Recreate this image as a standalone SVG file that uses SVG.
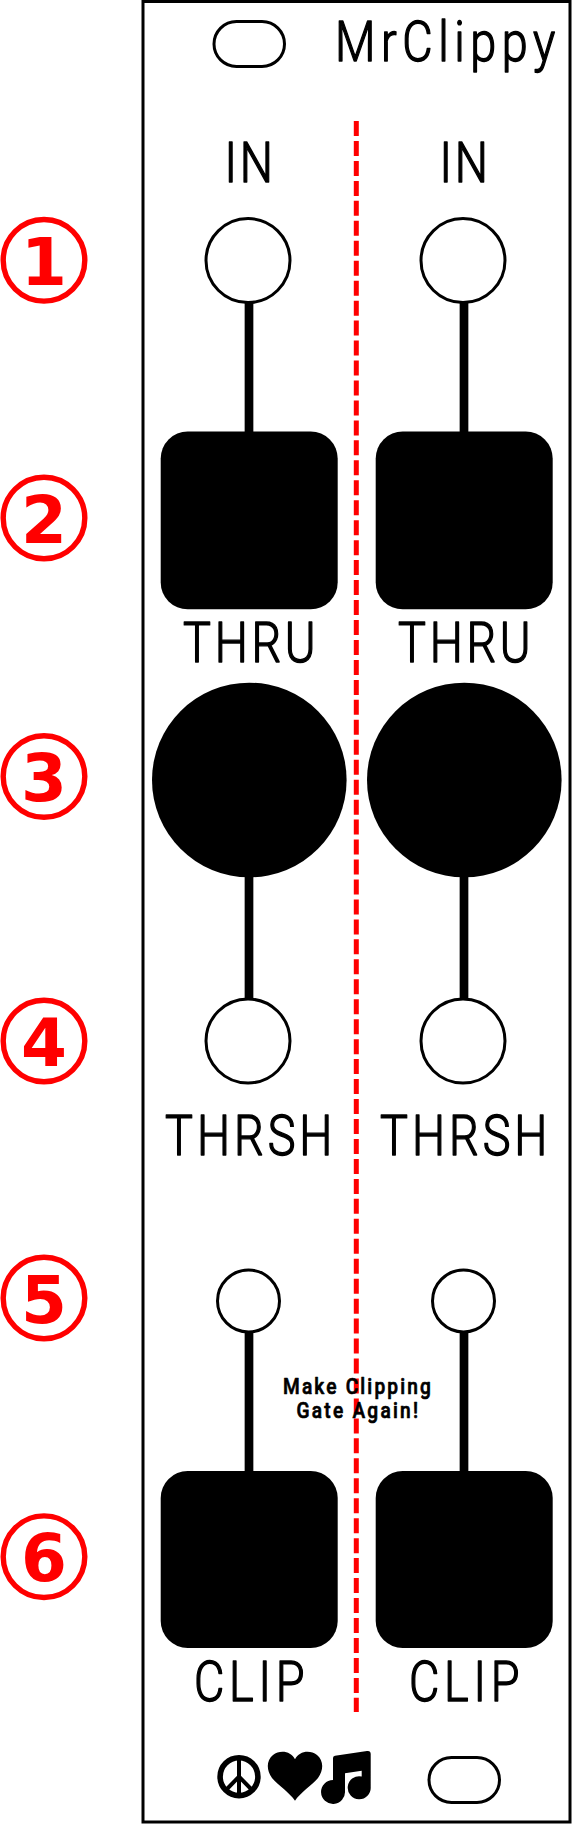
<svg xmlns="http://www.w3.org/2000/svg" width="572" height="1824" viewBox="0 0 572 1824">
<style>
.l{font-family:"Roboto","Liberation Sans",sans-serif;font-weight:300;font-size:55px;fill:#000;stroke:#000;stroke-width:1.4;stroke-linejoin:round}
.m{font-family:"Roboto","Liberation Sans",sans-serif;font-weight:500;font-size:22.5px;fill:#000;stroke:#000;stroke-width:.7;stroke-linejoin:round}
.n{font-family:"DejaVu Sans",sans-serif;font-weight:700;font-size:66px;fill:#f00;text-anchor:middle}
.c{fill:none;stroke:#f00;stroke-width:5.4}
.j{fill:#fff;stroke:#000;stroke-width:3}
.st{stroke:#000;stroke-width:8.7;fill:none}
</style>
<rect width="572" height="1824" fill="#fff"/>
<rect id="panel" x="143" y="1.5" width="427" height="1820.5" fill="#fff" stroke="#000" stroke-width="3"/>
<g id="connectors">
<path class="st" d="M249 300V435M464 300V435M249 870V1000M464 870V1000M249 1330V1475M464 1330V1475"/>
<path d="M356.3 121V1712" fill="none" stroke="#f00" stroke-width="5" stroke-dasharray="15 4.96"/>
</g>
<g id="slot-top"><rect class="j" x="214" y="21.5" width="70.5" height="45" rx="22.5"/></g>
<g id="slot-bottom"><rect class="j" x="429" y="1757.5" width="70.5" height="45" rx="22.5"/></g>
<g id="title"><text class="l" transform="translate(335 60.7) scale(.85 1)" textLength="259" lengthAdjust="spacing">MrClippy</text></g>
<g id="label-in-l"><text class="l" transform="translate(224.5 182) scale(.85 1)" textLength="57" lengthAdjust="spacing">IN</text></g>
<g id="label-in-r"><text class="l" transform="translate(439.5 182) scale(.85 1)" textLength="57" lengthAdjust="spacing">IN</text></g>
<g id="jack-in-l"><circle class="j" cx="248" cy="260.6" r="42"/></g>
<g id="jack-in-r"><circle class="j" cx="463" cy="260.6" r="42"/></g>
<g id="thru-l"><rect x="160.7" y="431.5" width="177" height="177.8" rx="27"/><text class="l" transform="translate(183 661.7) scale(.85 1)" textLength="156" lengthAdjust="spacing">THRU</text></g>
<g id="thru-r"><rect x="375.7" y="431.5" width="177" height="177.8" rx="27"/><text class="l" transform="translate(398 661.7) scale(.85 1)" textLength="156" lengthAdjust="spacing">THRU</text></g>
<g id="knob-l"><circle cx="249.3" cy="780" r="97.3"/></g>
<g id="knob-r"><circle cx="464.3" cy="780" r="97.3"/></g>
<g id="jack-thrsh-l"><circle class="j" cx="248" cy="1041" r="42"/></g>
<g id="jack-thrsh-r"><circle class="j" cx="463" cy="1041" r="42"/></g>
<g id="label-thrsh-l"><text class="l" transform="translate(165 1155) scale(.85 1)" textLength="197" lengthAdjust="spacing">THRSH</text></g>
<g id="label-thrsh-r"><text class="l" transform="translate(380 1155) scale(.85 1)" textLength="197" lengthAdjust="spacing">THRSH</text></g>
<g id="jack-clip-l"><circle class="j" cx="248.5" cy="1301" r="31"/></g>
<g id="jack-clip-r"><circle class="j" cx="463.5" cy="1301" r="31"/></g>
<g id="clip-l"><rect x="160.7" y="1471" width="177" height="177" rx="27"/><text class="l" transform="translate(194 1701) scale(.85 1)" textLength="130" lengthAdjust="spacing">CLIP</text></g>
<g id="clip-r"><rect x="375.7" y="1471" width="177" height="177" rx="27"/><text class="l" transform="translate(409 1701) scale(.85 1)" textLength="130" lengthAdjust="spacing">CLIP</text></g>
<g id="slogan"><text class="m" transform="translate(283 1394) scale(.85 1)" textLength="174" lengthAdjust="spacing">Make Clipping</text><text class="m" transform="translate(296.5 1417.7) scale(.85 1)" textLength="143" lengthAdjust="spacing">Gate Again!</text></g>
<g id="icon-peace"><circle cx="239" cy="1776.7" r="18.9" fill="none" stroke="#000" stroke-width="5.6"/><path d="M239 1757V1797M239 1776.7L225 1791M239 1776.7L253 1791" fill="none" stroke="#000" stroke-width="4"/></g>
<g id="icon-heart"><path d="M295 1800.7C290 1793 278 1785 272 1778C266 1770 266.5 1760 273 1755C280 1749.5 291 1751 295 1759.3C299 1751 310 1749.5 317 1755C323.5 1760 324 1770 318 1778C312 1785 300 1793 295 1800.7Z"/></g>
<g id="icon-music"><path d="M333 1758Q333 1756 335 1755.7L367 1751Q370.7 1750.5 370.7 1754V1787A11.5 11.5 0 1 1 361.7 1776.5V1770.7L345 1773.3V1791A12 12 0 1 1 333 1780Z"/></g>
<g id="badge-1"><circle class="c" cx="44" cy="260.3" r="40.8"/><text class="n" x="44" y="285">1</text></g>
<g id="badge-2"><circle class="c" cx="44" cy="518" r="40.8"/><text class="n" x="44" y="543">2</text></g>
<g id="badge-3"><circle class="c" cx="44" cy="776.5" r="40.8"/><text class="n" x="44" y="801">3</text></g>
<g id="badge-4"><circle class="c" cx="44" cy="1041" r="40.8"/><text class="n" x="44" y="1065.5">4</text></g>
<g id="badge-5"><circle class="c" cx="44" cy="1298" r="40.8"/><text class="n" x="44" y="1322.5">5</text></g>
<g id="badge-6"><circle class="c" cx="44" cy="1556.7" r="40.8"/><text class="n" x="44" y="1581">6</text></g>
</svg>
